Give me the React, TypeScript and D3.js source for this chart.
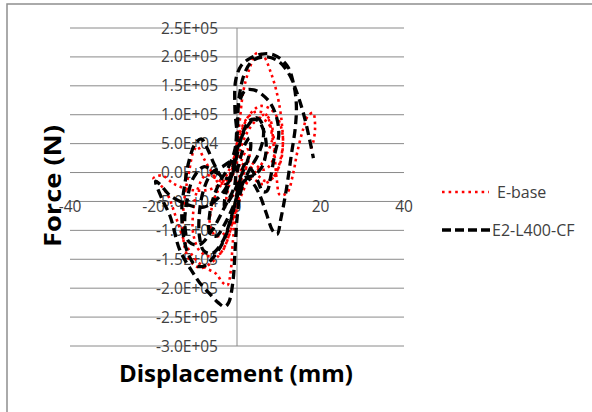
import React from "react";
import * as d3 from "d3";

// displacement (mm), force (N)
const eBase: [number, number][] = [
  [0, 0], [1, 2e4], [2.5, 4e4], [3, 3e4], [2, 5e3], [0.5, -2e4], [-1, -4e4], [-2.5, -5e4], [-2, -2.5e4], [-0.5, 5e3],
  [1, 4.5e4], [2.5, 7e4], [4.5, 9e4], [6.5, 1.0e5], [8, 9e4], [8.5, 6e4], [7, 3e4], [5, 5e3], [3, -1e4], [1, -4e4],
  [-1, -8e4], [-3, -1.05e5], [-5, -1.1e5], [-6.5, -9e4], [-6, -6e4], [-4.5, -3e4], [-2.5, -5e3], [-0.5, 3e4],
  [1, 7e4], [3, 1.0e5], [5.5, 1.15e5], [8, 1.1e5], [10, 9e4], [11, 6e4], [10.5, 2.5e4], [9, -5e3], [7, -1.5e4],
  [5, -5e3], [3, 1e4], [1.5, 0], [0, -5e4], [-1.5, -1.0e5], [-3.5, -1.35e5], [-6, -1.55e5], [-8.5, -1.65e5],
  [-11, -1.55e5], [-12.5, -1.3e5], [-13, -9e4], [-12.5, -4e4], [-11.5, 0], [-10.5, 3.5e4], [-9.5, 4.5e4], [-8, 2.5e4],
  [-6, 0], [-4, -2e4], [-2, -1e4], [-0.5, 2e4],
  [1, 6e4], [3, 8.5e4], [5, 9.5e4], [7.5, 8.5e4], [9, 5e4], [8.5, 2e4], [6.5, 5e3], [4, 1.5e4], [2, 2e4], [0.5, -1e4],
  [-0.5, -6e4], [-2, -1.1e5], [-4, -1.4e5], [-6.5, -1.45e5], [-9, -1.35e5], [-10.5, -1.05e5], [-10.5, -7e4],
  [-9.5, -3e4], [-7.5, -5e3], [-5, -1e4], [-2.5, -2e4], [-1, 1e4],
  [0.5, 8e4], [1.5, 1.4e5], [3, 1.8e5], [4.8, 2.07e5], [6.5, 2.0e5], [8, 1.75e5], [9.3, 1.45e5], [10.3, 1.1e5],
  [10.8, 8e4], [11, 5.5e4], [10.5, 2e4], [8.5, -1e4], [6, -2e4], [3.5, -1e4], [1.5, -2e4], [0, -6e4], [-1, -1.2e5],
  [-1.5, -1.7e5], [-2.3, -1.95e5], [-3.5, -1.9e5], [-5, -1.75e5], [-7.5, -1.65e5], [-10, -1.5e5], [-12.5, -1.2e5],
  [-14.5, -8e4], [-16.5, -4e4], [-18.5, -2e4], [-20, -1e4], [-18, -5e3], [-15, -2e4], [-11, -3e4], [-7, -3e4],
  [-4, -2e4], [-1.5, 0],
  [0, 5e4], [2, 9e4], [4.5, 1.05e5], [7, 1.0e5], [8.5, 6e4], [9, 3e4], [9.5, -1e4], [10.3, -3.9e4], [12, -3.5e4],
  [13.5, 0], [14.4, 3.4e4], [15.8, 7.4e4], [17, 9.8e4], [18.2, 1.03e5], [18.7, 7.9e4], [18.2, 5.1e4], [17.5, 3.9e4],
];

const e2L400CF: [number, number][] = [
  [0, 0], [0.8, 2.5e4], [2, 5e4], [3, 6e4], [3.3, 4.5e4], [2.5, 2e4], [1, -5e3], [-0.5, -3e4], [-2, -5e4], [-3, -6e4],
  [-2.8, -4e4], [-1.8, -1.5e4], [-0.8, 1.5e4],
  [0.5, 5e4], [2.5, 8e4], [4.5, 9.5e4], [6, 8.5e4], [6.3, 6e4], [5, 3e4], [3, 5e3], [1, -2.5e4], [-1, -6e4],
  [-3, -9e4], [-5, -1.1e5], [-6.5, -1.05e5], [-6.5, -7e4], [-5.5, -4e4], [-4, -1.5e4], [-2, 1e4], [-0.5, 4e4],
  [0, 8e4], [0.5, 1.2e5], [2, 1.42e5], [4, 1.43e5], [6, 1.35e5], [8, 1.2e5], [9.5, 9.5e4], [10, 6.5e4], [9, 3e4],
  [8, -1e4], [7.2, -3.2e4], [6.2, -3.3e4], [5, -1.5e4], [3.5, 5e3], [2, 1.5e4], [0.5, -2e4], [-1, -7e4],
  [-3, -1.15e5], [-5.5, -1.45e5], [-8, -1.62e5], [-10, -1.6e5], [-12, -1.35e5], [-13, -1e5], [-13.2, -6e4],
  [-12.5, -2e4], [-11.5, 2e4], [-10, 5e4], [-8.5, 5.8e4], [-7, 4e4], [-5.5, 1.5e4], [-4, -5e3], [-2.5, -2e4], [-1, 0],
  [0, 3e4], [1.5, 7e4], [3, 9e4], [5, 9e4], [6.5, 7e4], [7, 4e4], [6, 1e4], [4, -5e3], [1.5, -1e4], [0, -4e4],
  [-1.5, -8e4], [-3.5, -1.2e5], [-6, -1.4e5], [-8, -1.35e5], [-9, -1.1e5], [-9, -7e4], [-8, -3e4], [-6, 0],
  [-3.5, 1e4], [-1, 2e4], [-0.5, -2e4], [-3, -6e4], [-6, -1e5], [-9, -1.25e5], [-11.5, -1.2e5], [-12.5, -9e4],
  [-12, -5e4], [-10.5, -1e4], [-8, 1e4], [-5, 0], [-2, -1e4],
  [0, 5e4], [-0.5, 1.1e5], [-0.3, 1.6e5], [1, 1.85e5], [3, 1.97e5], [6, 2.05e5], [9, 2.03e5], [12, 1.85e5],
  [13.5, 1.55e5], [14.2, 1.2e5], [14, 8e4], [13, 3e4], [11.8, -3e4], [10.5, -8e4], [9.6, -1.07e5], [8.5, -1.0e5],
  [7, -7e4], [5.5, -4e4], [4, -2e4], [2.5, -1e4], [1, -3e4], [0, -8e4], [-0.5, -1.4e5], [-1, -1.9e5], [-2, -2.25e5],
  [-3, -2.32e5], [-4.5, -2.25e5], [-6.5, -2.1e5], [-9, -1.9e5], [-10.5, -1.74e5], [-13.7, -1.34e5], [-16, -7.6e4],
  [-18, -4.5e4], [-19.5, -1.5e4], [-18.5, -2e4], [-16, -4e4], [-12, -5.5e4], [-8, -6e4], [-4, -4e4], [-1, 0],
  [0, 6e4], [0.5, 1.3e5], [2, 1.75e5], [4, 1.95e5], [7, 2.0e5], [10, 1.92e5], [12.5, 1.7e5], [14.5, 1.35e5],
  [16, 1.0e5], [17.3, 6e4], [18.3, 2.5e4],
];

const xTicks = [-40, -20, 0, 20, 40];
const yTicks = [2.5e5, 2e5, 1.5e5, 1e5, 5e4, 0, -5e4, -1e5, -1.5e5, -2e5, -2.5e5, -3e5];
const seriesNames = ["E-base", "E2-L400-CF"];

const fmt = (v: number) => {
  const s = v.toExponential(1).toUpperCase(); // e.g. 2.5E+5
  const m = s.match(/^(-?[\d.]+)E([+-])(\d+)$/);
  if (!m) return s;
  return `${m[1]}E${m[2]}${m[3].padStart(2, "0")}`;
};

export default function App() {
  const width = 592, height = 412;
  const x = d3.scaleLinear().domain([-40, 40]).range([70, 404]);
  const y = d3.scaleLinear().domain([-3e5, 2.5e5]).range([346, 28]);
  const line = d3.line<[number, number]>()
    .x(d => x(d[0]))
    .y(d => y(d[1]))
    .curve(d3.curveCatmullRom.alpha(0.5));

  const font = "'Open Sans', 'Liberation Sans', sans-serif";
  const grid = "#8a8a8a";

  return (
    <svg width={width} height={height} style={{ position: "absolute", left: 0, top: 0, background: "#fff" }}>
      <rect x={7} y={4} width={620} height={440} fill="#fff" stroke="#8f8f8f" strokeWidth={1.5} />

      {yTicks.map(t => (
        <line key={"g" + t} x1={x(-40)} x2={x(40)} y1={y(t)} y2={y(t)} stroke={grid} strokeWidth={1} />
      ))}
      <line x1={x(0)} x2={x(0)} y1={y(2.5e5)} y2={y(-3e5)} stroke={grid} strokeWidth={1} />

      {yTicks.map(t => (
        <text key={"y" + t} x={218} y={y(t)} dy="0.36em" textAnchor="end"
          fontFamily={font} fontSize={15.5} fill="#404040">{fmt(t)}</text>
      ))}
      {xTicks.map(t => (
        <text key={"x" + t} x={x(t)} y={206} dy="0.36em" textAnchor="middle"
          fontFamily={font} fontSize={15.5} fill="#404040">{t}</text>
      ))}

      <path d={line(eBase) || ""} fill="none" stroke="#ff0000" strokeWidth={2.6}
        strokeDasharray="2.6,3.6" />
      <path d={line(e2L400CF) || ""} fill="none" stroke="#000" strokeWidth={3.3}
        strokeDasharray="9,5" />

      <text x={0} y={0} transform="translate(61,186) rotate(-90)" textAnchor="middle"
        fontFamily={font} fontWeight="bold" fontSize={24} fill="#000"
        textLength={122} lengthAdjust="spacingAndGlyphs">Force (N)</text>
      <text x={236} y={382} textAnchor="middle" fontFamily={font} fontWeight="bold" fontSize={23}
        fill="#000" textLength={234} lengthAdjust="spacingAndGlyphs">Displacement (mm)</text>

      <line x1={442} x2={489} y1={192} y2={192} stroke="#ff0000" strokeWidth={2.6} strokeDasharray="2.6,4" />
      <text x={497} y={192} dy="0.36em" fontFamily={font} fontSize={16} fill="#404040">{seriesNames[0]}</text>
      <line x1={442} x2={490} y1={230} y2={230} stroke="#000" strokeWidth={3.3} strokeDasharray="9,4" />
      <text x={492} y={230} dy="0.36em" fontFamily={font} fontSize={16} fill="#404040">{seriesNames[1]}</text>
    </svg>
  );
}
